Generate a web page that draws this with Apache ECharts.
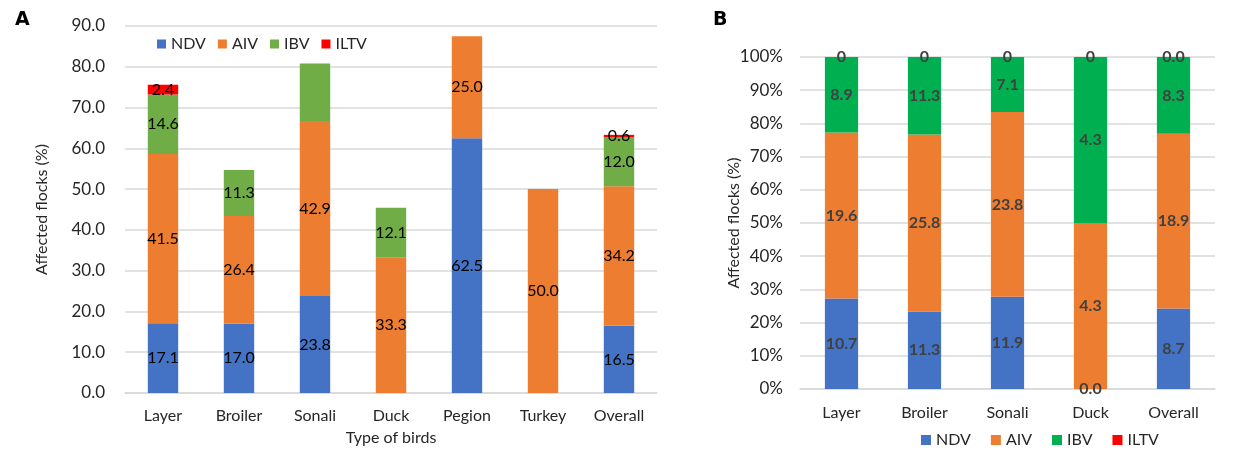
<!DOCTYPE html>
<html>
<head>
<meta charset="utf-8">
<script src="https://cdn.jsdelivr.net/npm/echarts@6/dist/echarts.min.js"></script>
<style>
  html, body { margin: 0; padding: 0; background: #fff; }
  #chartA { position: absolute; left: 0; top: 0; width: 700px; height: 458px; }
  #chartB { position: absolute; left: 700px; top: 0; width: 548px; height: 458px; }
</style>
</head>
<body>
<div id="chartA"></div>
<div id="chartB"></div>
<script>
// 图 A：各类禽群感染比例
const birdsA = ['Layer', 'Broiler', 'Sonali', 'Duck', 'Pegion', 'Turkey', 'Overall'];
const ndvA = [17.1, 17.0, 23.8, 0, 62.5, 0, 16.5];
const aivA = [41.5, 26.4, 42.9, 33.3, 25.0, 50.0, 34.2];
const ibvA = [14.6, 11.3, 14.1, 12.1, 0, 0, 12.0];
const iltvA = [2.4, 0, 0, 0, 0, 0, 0.6];

// 图 B：100% 堆叠
const birdsB = ['Layer', 'Broiler', 'Sonali', 'Duck', 'Overall'];
const ndvB = [10.7, 11.3, 11.9, 0.0, 8.7];
const aivB = [19.6, 25.8, 23.8, 4.3, 18.9];
const ibvB = [8.9, 11.3, 7.1, 4.3, 8.3];
const iltvB = [0, 0, 0, 0, 0];
const iltvLabelsB = ['0', '0', '0', '0', '0.0'];

const FONT = 'Lato';
const colors = { NDV: '#4472C4', AIV: '#ED7D31', IBV_A: '#70AD47', IBV_B: '#00B050', ILTV: '#FF0000' };

/**
 * 图 A
 */
const chartA = echarts.init(document.getElementById('chartA'));
function seriesA(name, data, color) {
  return {
    name: name,
    type: 'bar',
    stack: 'total',
    barWidth: '40%',
    data: data,
    itemStyle: { color: color },
    label: {
      show: true,
      position: 'inside',
      color: '#000',
      fontFamily: FONT,
      fontSize: 16,
      formatter: function (p) {
        if (p.value === 0) return '';
        if (p.seriesName === 'IBV' && p.name === 'Sonali') return ''; // 原图未标注
        return p.value.toFixed(1);
      }
    }
  };
}
chartA.setOption({
  animation: false,
  textStyle: { fontFamily: FONT },
  title: {
    text: 'A', left: 10, top: 6,
    textStyle: { fontFamily: 'DejaVu Sans', fontSize: 19, fontWeight: 'bold', color: '#000' }
  },
  legend: {
    left: 152, top: 31,
    icon: 'rect', itemWidth: 9, itemHeight: 9, itemGap: 12,
    textStyle: { fontFamily: FONT, fontSize: 16, color: '#262626' },
    data: ['NDV', 'AIV', 'IBV', 'ILTV']
  },
  grid: { left: 125, right: 43, top: 26, bottom: 65 },
  xAxis: {
    type: 'category',
    data: birdsA,
    name: 'Type of birds',
    nameLocation: 'middle',
    nameGap: 37,
    nameMoveOverlap: false,
    nameTextStyle: { fontFamily: FONT, fontSize: 16, color: '#262626' },
    axisLine: { lineStyle: { color: '#d9d9d9', width: 1.5 } },
    axisTick: { show: false },
    axisLabel: { fontFamily: FONT, fontSize: 16, color: '#262626', margin: 15 }
  },
  yAxis: {
    type: 'value',
    min: 0, max: 90, interval: 10,
    name: 'Affected flocks (%)',
    nameLocation: 'middle',
    nameGap: 75,
    nameMoveOverlap: false,
    nameTextStyle: { fontFamily: FONT, fontSize: 16, color: '#262626' },
    axisLabel: { fontFamily: FONT, fontSize: 17, color: '#262626', margin: 20,
      formatter: function (v) { return v.toFixed(1); } },
    splitLine: { lineStyle: { color: '#d9d9d9', width: 1.5 } }
  },
  series: [
    seriesA('NDV', ndvA, colors.NDV),
    seriesA('AIV', aivA, colors.AIV),
    seriesA('IBV', ibvA, colors.IBV_A),
    seriesA('ILTV', iltvA, colors.ILTV)
  ]
});

/**
 * 图 B，按每类总数换算成百分比
 */
const chartB = echarts.init(document.getElementById('chartB'));
const totalsB = birdsB.map((b, i) => ndvB[i] + aivB[i] + ibvB[i] + iltvB[i]);
function seriesB(name, data, color, labels) {
  return {
    name: name,
    type: 'bar',
    stack: 'total',
    barWidth: '40%',
    data: data.map((v, i) => v / totalsB[i] * 100),
    itemStyle: { color: color },
    label: {
      show: true,
      position: 'inside',
      color: '#404040',
      fontFamily: FONT,
      fontWeight: 'bold',
      fontSize: 16,
      formatter: function (p) {
        return labels ? labels[p.dataIndex] : data[p.dataIndex].toFixed(1);
      }
    }
  };
}
chartB.setOption({
  animation: false,
  textStyle: { fontFamily: FONT },
  title: {
    text: 'B', left: 8, top: 6,
    textStyle: { fontFamily: 'DejaVu Sans', fontSize: 19, fontWeight: 'bold', color: '#000' }
  },
  legend: {
    left: 216, bottom: 5,
    icon: 'rect', itemWidth: 10, itemHeight: 10, itemGap: 20,
    textStyle: { fontFamily: FONT, fontSize: 16, color: '#262626' },
    data: [
      { name: 'NDV', itemStyle: { color: colors.NDV } },
      { name: 'AIV', itemStyle: { color: colors.AIV } },
      { name: 'IBV', itemStyle: { color: colors.IBV_B } },
      { name: 'ILTV', itemStyle: { color: colors.ILTV } }
    ]
  },
  grid: { left: 100, right: 33, top: 57, bottom: 69 },
  xAxis: {
    type: 'category',
    data: birdsB,
    axisLine: { lineStyle: { color: '#d9d9d9', width: 1.5 } },
    axisTick: { show: false },
    axisLabel: { fontFamily: FONT, fontSize: 16, color: '#262626', margin: 16 }
  },
  yAxis: {
    type: 'value',
    min: 0, max: 100, interval: 10,
    name: 'Affected flocks (%)',
    nameLocation: 'middle',
    nameGap: 58,
    nameMoveOverlap: false,
    nameTextStyle: { fontFamily: FONT, fontSize: 16, color: '#262626' },
    axisLabel: { fontFamily: FONT, fontSize: 17, color: '#262626', margin: 17,
      formatter: function (v) { return v + '%'; } },
    splitLine: { lineStyle: { color: '#d9d9d9', width: 1.5 } }
  },
  series: [
    seriesB('NDV', ndvB, colors.NDV),
    seriesB('AIV', aivB, colors.AIV),
    seriesB('IBV', ibvB, colors.IBV_B),
    seriesB('ILTV', iltvB, colors.ILTV, iltvLabelsB)
  ]
});
</script>
</body>
</html>
